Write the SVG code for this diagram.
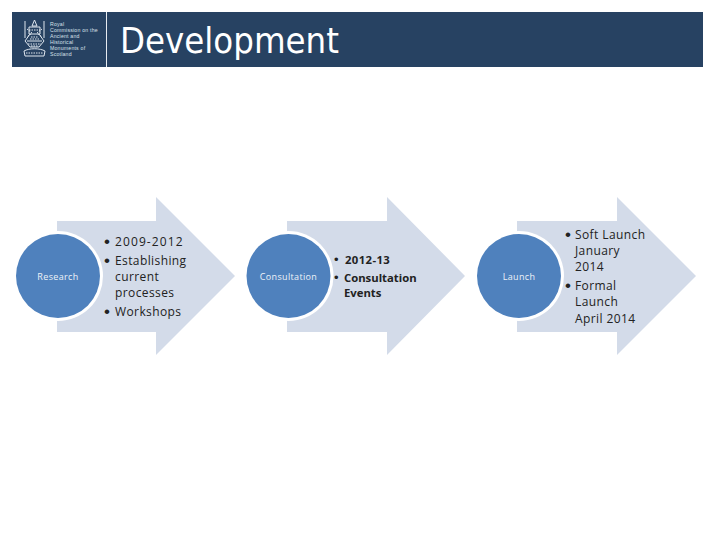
<svg xmlns="http://www.w3.org/2000/svg" width="720" height="540" viewBox="0 0 720 540">
<defs>
<style>
.arrow{fill:#d3dbe9}
.ring{fill:#fff}
.disc{fill:#4f81bd}
.lab{font:9px "Open Sans","DejaVu Sans",sans-serif;fill:#eef2f8;text-anchor:middle;letter-spacing:.35px}
.t{font:12px "Open Sans","DejaVu Sans",sans-serif;fill:#222;letter-spacing:.4px}
.tb{font:bold 11.300px "Open Sans","DejaVu Sans",sans-serif;fill:#222}
.b{font:17px "Liberation Sans",sans-serif;fill:#222}
.bs{font:13px "Liberation Sans",sans-serif;fill:#222}
.m{font:5.200px "Liberation Sans",sans-serif;fill:#d8e0ea;letter-spacing:.2px}
.crest{fill:none;stroke:#dfe6ee;stroke-width:1}
</style>
</defs>
<g id="header">
<rect x="12" y="12" width="691" height="55" fill="#274262"/>
<rect x="106" y="12" width="1" height="55" fill="#e6ebf1"/>
<text x="120" y="53" style="font:36px 'DejaVu Sans',sans-serif;fill:#fff" textLength="219" lengthAdjust="spacingAndGlyphs">Development</text>
</g>
<g id="logo">
<path class="crest" d="M25 21V38M44 21V38M32 26L34.500 20L37 26ZM29 27H40V34H29ZM30 34L25 41L30 47H39L44 41L39 34M27 41H42M24 51C29 48 40 48 45 51L44 56H25Z"/>
<path class="crest" stroke-dasharray="1.500 1" d="M27 29L32 33L27 37M42 29L37 33L42 37M31 37H38M28 44H41M29 30H40M26 53H43M30 39H39M31 46H38"/>
<text class="m" x="50" y="26">Royal</text>
<text class="m" x="50" y="32">Commission on the</text>
<text class="m" x="50" y="38">Ancient and</text>
<text class="m" x="50" y="44">Historical</text>
<text class="m" x="50" y="50">Monuments of</text>
<text class="m" x="50" y="56">Scotland</text>
</g>
<g id="connectors"></g>
<g id="research">
<path class="arrow" d="M57 221H156V197L235 276L156 355V332H57Z"/>
<circle class="ring" cx="58" cy="276" r="45"/>
<circle class="disc" cx="58" cy="276" r="42"/>
<text class="lab" x="58" y="280">Research</text>
<text class="b" x="104" y="247">•</text><text class="t" x="115" y="246" style="letter-spacing:1.100px">2009-2012</text>
<text class="b" x="104" y="266">•</text><text class="t" x="115" y="265">Establishing</text>
<text class="t" x="115" y="281">current</text>
<text class="t" x="115" y="297">processes</text>
<text class="b" x="104" y="317">•</text><text class="t" x="115" y="316">Workshops</text>
</g>
<g id="consultation">
<path class="arrow" d="M287 221H387V197L465 276L387 355V332H287Z"/>
<circle class="ring" cx="288.500" cy="276" r="45"/>
<circle class="disc" cx="288.500" cy="276" r="42"/>
<text class="lab" x="288.500" y="280">Consultation</text>
<text class="bs" x="334" y="264">•</text><text class="tb" x="345" y="264" style="letter-spacing:.4px">2012-13</text>
<text class="bs" x="334" y="282">•</text><text class="tb" x="344" y="282">Consultation</text>
<text class="tb" x="344" y="297">Events</text>
</g>
<g id="launch">
<path class="arrow" d="M517 221H617V197L696 276L617 355V332H517Z"/>
<circle class="ring" cx="519" cy="276" r="45"/>
<circle class="disc" cx="519" cy="276" r="42"/>
<text class="lab" x="519" y="280">Launch</text>
<text class="b" x="565" y="240">•</text><text class="t" x="575" y="239">Soft Launch</text>
<text class="t" x="575" y="255">January</text>
<text class="t" x="575" y="271">2014</text>
<text class="b" x="565" y="291">•</text><text class="t" x="575" y="290">Formal</text>
<text class="t" x="575" y="306">Launch</text>
<text class="t" x="575" y="323">April 2014</text>
</g>
</svg>
